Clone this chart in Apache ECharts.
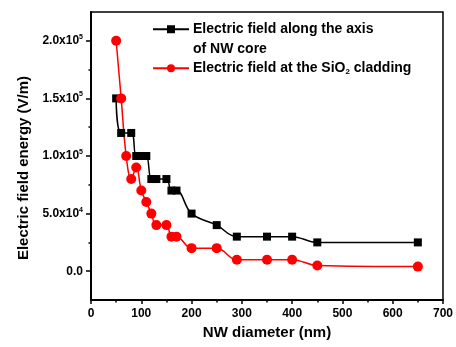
<!DOCTYPE html>
<html>
<head>
<meta charset="utf-8">
<script src="https://cdn.jsdelivr.net/npm/echarts@6/dist/echarts.min.js"></script>
<style>html,body{margin:0;padding:0;background:#fff}#c{width:456px;height:347px}</style>
</head>
<body>
<div id="c"></div>
<script>
// ---- data ----
const xCore = [50, 60, 80, 90, 100, 110, 120, 130, 150, 160, 170, 200, 250, 290, 350, 400, 450, 650];
const yCore = [150000, 120000, 120000, 100000, 100000, 100000, 80000, 80000, 80000, 70000, 70000, 50000, 40000, 30000, 30000, 30000, 25000, 25000];
const xClad = [50, 60, 70, 80, 90, 100, 110, 120, 130, 150, 160, 170, 200, 250, 290, 350, 400, 450, 650];
const yClad = [200000, 150000, 100000, 80000, 90000, 70000, 60000, 50000, 40000, 40000, 30000, 30000, 20000, 20000, 10000, 10000, 10000, 5000, 4000];
const seriesNames = ['Electric field along the axis of NW core', 'Electric field at the SiO2 cladding'];
const yMajorTicks = [0, 50000, 100000, 150000, 200000];
const yMinorTicks = [25000, 75000, 125000, 175000];
const xTitle = 'NW diameter (nm)';
const yTitle = 'Electric field energy (V/m)';

const FONT = '"Liberation Sans", Arial, sans-serif';
const pair = (xs, ys) => xs.map((x, i) => [x, ys[i]]);

function yFmt(v) {
  if (v === 0) return '0.0';
  const e = Math.floor(Math.log10(v) + 1e-9);
  const m = (v / Math.pow(10, e)).toFixed(1);
  return m + 'x10{sup|' + e + '}';
}

const chart = echarts.init(document.getElementById('c'), null, {renderer: 'canvas'});
chart.setOption({
  animation: false,
  backgroundColor: '#fff',
  grid: {left: 91, right: 10, top: 12, bottom: 47, show: true, borderColor: '#000', borderWidth: 1.5, backgroundColor: 'transparent'},
  legend: {
    orient: 'vertical', left: 152, top: 0, padding: 0, itemGap: 0,
    itemWidth: 36, itemHeight: 10,
    data: seriesNames,
    formatter: function (name) {
      if (name === seriesNames[0]) return '\nElectric field along the axis\nof NW core';
      return 'Electric field at the SiO{sub|2} cladding';
    },
    textStyle: {
      fontFamily: FONT, fontSize: 14, fontWeight: 'bold', color: '#000', lineHeight: 19.5, padding: [0, 0, 0, -1],
      rich: {sub: {fontFamily: FONT, fontSize: 8, fontWeight: 'bold', color: '#000', padding: [8, 0, 0, 0]}}
    }
  },
  xAxis: {
    type: 'value', min: 0, max: 700, interval: 100,
    name: xTitle, nameLocation: 'middle', nameGap: 19,
    nameTextStyle: {fontFamily: FONT, fontSize: 15, fontWeight: 'bold', color: '#000'},
    axisLine: {show: true, onZero: false, lineStyle: {color: '#000', width: 2}},
    axisTick: {show: true, inside: false, length: 4, lineStyle: {color: '#000', width: 1.5}},
    minorTick: {show: true, splitNumber: 2, length: 2.5, lineStyle: {color: '#000', width: 1.5}},
    splitLine: {show: false},
    axisLabel: {margin: 8, fontFamily: FONT, fontSize: 12, fontWeight: 'bold', color: '#000'}
  },
  yAxis: [{
    type: 'value', min: -25000, max: 225000, interval: 25000,
    name: yTitle, nameLocation: 'middle', nameGap: 60,
    nameTextStyle: {fontFamily: FONT, fontSize: 15, fontWeight: 'bold', color: '#000', padding: [0, 24, 0, 0]},
    axisLine: {show: true, onZero: false, lineStyle: {color: '#000', width: 2}},
    axisTick: {show: true, inside: false, length: 2.5, customValues: yMinorTicks, lineStyle: {color: '#000', width: 1.5}},
    splitLine: {show: false},
    axisLabel: {
      margin: 8, customValues: yMajorTicks, formatter: yFmt,
      fontFamily: FONT, fontSize: 12, fontWeight: 'bold', color: '#000',
      rich: {sup: {fontFamily: FONT, fontSize: 7, fontWeight: 'bold', color: '#000', padding: [0, 0, 8, 0]}}
    }
  }, {
    type: 'value', min: -25000, max: 225000, interval: 25000, position: 'left',
    axisLine: {show: false},
    axisTick: {show: true, inside: false, length: 5, customValues: yMajorTicks, lineStyle: {color: '#000', width: 1.5}},
    axisLabel: {show: false}, splitLine: {show: false}
  }],
  series: [{
    name: seriesNames[0], type: 'line', data: pair(xCore, yCore),
    smooth: 0.4,
    symbol: 'rect', symbolSize: 8,
    itemStyle: {color: '#000'}, lineStyle: {color: '#000', width: 1.5}
  }, {
    name: seriesNames[1], type: 'line', data: pair(xClad, yClad),
    smooth: 0.4,
    symbol: 'circle', symbolSize: 10,
    itemStyle: {color: '#ff0000'}, lineStyle: {color: '#ff0000', width: 1.5}
  }]
});
</script>
</body>
</html>
